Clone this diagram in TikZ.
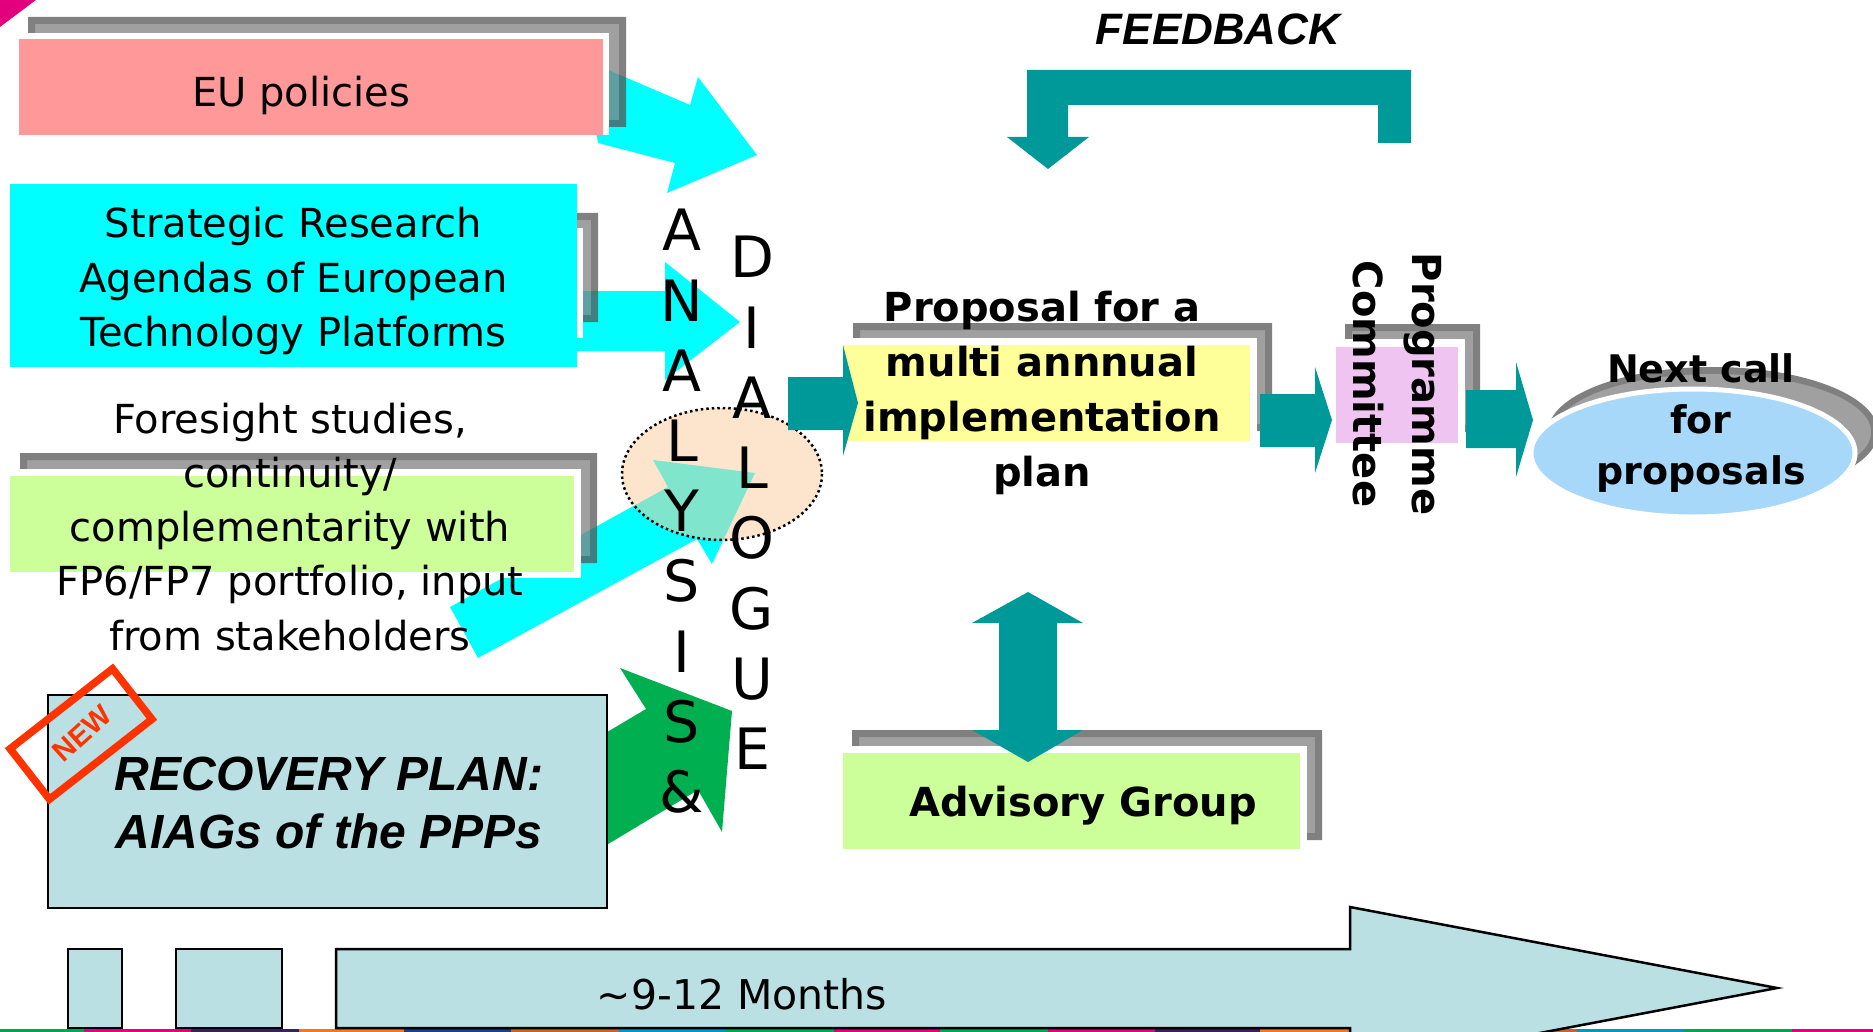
\documentclass[tikz,border=0pt]{standalone}
\usepackage{fontspec}
\setmainfont{DejaVu Sans}
\newfontfamily\arialf{Liberation Sans}
\definecolor{eupink}{HTML}{FF9999}
\definecolor{cyanc}{HTML}{00FFFF}
\definecolor{lgreen}{HTML}{CCFF99}
\definecolor{lyellow}{HTML}{FFFF99}
\definecolor{lpink}{HTML}{F0C4F0}
\definecolor{tealc}{HTML}{009999}
\definecolor{lblue}{HTML}{A7D8FA}
\definecolor{recov}{HTML}{BBE0E3}
\definecolor{greenarr}{HTML}{00B050}
\definecolor{newred}{HTML}{FF3300}
\definecolor{peach}{HTML}{FBCC9D}
\definecolor{shdark}{HTML}{555555}
\definecolor{shlight}{HTML}{808080}
\definecolor{eshdark}{HTML}{808080}
\definecolor{eshlight}{HTML}{A0A0A0}
\definecolor{magc}{HTML}{E4007C}
\definecolor{sgreen}{HTML}{00A650}
\definecolor{smag}{HTML}{E4007C}
\definecolor{spurp}{HTML}{3C1E5A}
\definecolor{sorange}{HTML}{F07820}
\definecolor{snavy}{HTML}{1E3C8C}
\definecolor{sbrown}{HTML}{C86428}
\definecolor{sblue}{HTML}{0096C8}
\newcommand{\mlines}[1]{\begin{tabular}[t]{@{}c@{}}#1\end{tabular}}
\newcommand{\shbox}[4]{%
  \fill[shdark,fill opacity=0.75,even odd rule] (#1,#2) rectangle (#3,#4) ({#1+7},{#2+7}) rectangle ({#3-7},{#4-7});
  \fill[shlight,fill opacity=0.75] ({#1+7},{#2+7}) rectangle ({#3-7},{#4-7});}
\tikzset{
  reg/.style={inner sep=0pt, anchor=base, font=\fontsize{40}{54.3}\selectfont},
  bld/.style={inner sep=0pt, anchor=base, font=\fontsize{40}{55}\selectfont\bfseries},
  letters/.style={inner sep=0pt, anchor=base, font=\fontsize{57}{70.2}\selectfont},
  arialbi/.style={inner sep=0pt, anchor=base, font=\arialf\bfseries\itshape\fontsize{48}{58}\selectfont},
  tealarrow/.style={fill=tealc},
  cyanarrow/.style={fill=cyanc},
  timebox/.style={fill=recov, draw=black, line width=2.5pt},
  newframe/.style={draw=newred, line width=7.5pt, minimum width=130pt, minimum height=64pt, inner sep=0pt, rotate=38},
}
\begin{document}
\begin{tikzpicture}[x=1pt,y=-1pt]
\useasboundingbox (0,0) rectangle (1873,1032);
% corner decoration
\fill[magc] (0,0) -- (36,0) -- (0,27) -- cycle;
% input arrows
\fill[cyanarrow] (585,60) -- (690,105) -- (698,77) -- (757,155) -- (667,193) -- (675,163) -- (598,143) -- cycle;
\fill[cyanarrow] (560,291) -- (665,291) -- (665,262) -- (740,322) -- (665,380) -- (665,351) -- (560,351) -- cycle;
\fill[cyanarrow] (450,607) -- (668,487) -- (653,460) -- (755,473) -- (712,564) -- (697,539) -- (478,658) -- cycle;
\fill[greenarr] (560,760) -- (646,709) -- (620,668) -- (732,711) -- (722,832) -- (698,790) -- (560,873) -- cycle;
% EU policies box
\shbox{28}{17}{626}{127}
\fill[white] (19,33) rectangle (609,135);
\fill[eupink] (19,39) rectangle (603,135);
% Strategic research box
\shbox{300}{213}{598}{322}
\fill[white] (300,228) rectangle (583,338);
\fill[cyanc] (10,184) rectangle (577,367);
% Foresight box
\shbox{20}{453}{597}{563}
\fill[white] (20,469) rectangle (581,578);
\fill[lgreen] (10,476) rectangle (574,572);
% Recovery plan box
\filldraw[fill=recov, draw=black, line width=2pt] (48,695) rectangle (607,908);
\node[newframe] (newbox) at (81,734) {};
\node[inner sep=0pt, rotate=42, text=newred, font=\arialf\bfseries\fontsize{29}{29}\selectfont] (newtext) at (82,733) {NEW};
% analysis & dialogue ellipse
\filldraw[fill=peach, fill opacity=0.51, draw=black, line width=2.5pt, dash pattern=on 2.5pt off 3pt] (722,474) ellipse [x radius=100, y radius=66];
% proposal box
\shbox{853}{323}{1272}{431}
\fill[white] (853,338) rectangle (1257,441);
\fill[lyellow] (843,345) rectangle (1250,441);
% programme committee box
\shbox{1345}{324}{1480}{432}
\fill[white] (1345,339) rectangle (1465,443);
\fill[lpink] (1336,347) rectangle (1458,443);
% advisory group box
\shbox{852}{730}{1322}{840}
\fill[white] (852,746) rectangle (1307,849);
\fill[lgreen] (843,753) rectangle (1300,849);
% teal flow arrows
\fill[tealarrow] (788,377) -- (843,377) -- (843,345) -- (858,403) -- (843,456) -- (843,430) -- (788,430) -- cycle;
\fill[tealarrow] (1260,394) -- (1315,394) -- (1315,367) -- (1332,420) -- (1315,473) -- (1315,447) -- (1260,447) -- cycle;
\fill[tealarrow] (1466,390) -- (1516,390) -- (1516,362) -- (1533,420) -- (1516,477) -- (1516,448) -- (1466,448) -- cycle;
% feedback arrow
\fill[tealarrow] (1411,143) -- (1411,70) -- (1027,70) -- (1027,137) -- (1007,137) -- (1048,169) -- (1089,137) -- (1068,137) -- (1068,105) -- (1378,105) -- (1378,143) -- cycle;
% advisory double arrow
\fill[tealarrow] (1028,592) -- (1083,623) -- (1057,623) -- (1057,730) -- (1083,730) -- (1028,762) -- (972,730) -- (999,730) -- (999,623) -- (972,623) -- cycle;
% next call ellipse
\fill[eshdark] (1713,432) ellipse [x radius=165, y radius=65];
\fill[eshlight] (1713,432) ellipse [x radius=158, y radius=58];
\filldraw[fill=lblue, draw=white, line width=5pt] (1693,453) ellipse [x radius=162, y radius=64];
% bottom stripe
\foreach \c/\a/\b in {sgreen/0/84, smag/84/191, spurp/191/299, sorange/299/404, snavy/404/511, sbrown/511/619, sblue/619/726, sgreen/726/834, smag/834/940, sgreen/940/1048, smag/1048/1155, spurp/1155/1260, sorange/1260/1368, snavy/1368/1475, sbrown/1475/1577, sblue/1577/1684, sgreen/1684/1792, smag/1792/1873}
  \fill[\c] (\a,1028.5) rectangle (\b,1032);
% time line
\filldraw[timebox] (68,949) rectangle (122,1028);
\filldraw[timebox] (176,949) rectangle (282,1028);
\filldraw[timebox] (336,949) -- (1350,949) -- (1350,907) -- (1777,988) -- (1350,1069) -- (1350,1028) -- (336,1028) -- cycle;
% texts
\node[reg] (eutext) at (301,107) {EU policies};
\node[reg, font=\fontsize{40}{54.5}\selectfont] (sratext) at (293.5,238) {\mlines{Strategic Research\\Agendas of European\\Technology Platforms}};
\node[reg] (foretext) at (290,433) {\mlines{Foresight studies,\\continuity/\\complementarity with\\FP6/FP7 portfolio, input\\from stakeholders}};
\node[arialbi] (rectext) at (329,790) {\mlines{RECOVERY PLAN:\\AIAGs of the PPPs}};
\node[letters] (analysis) at (682,251) {\mlines{A\\N\\A\\L\\Y\\S\\I\\S\\\&}};
\node[letters] (dialogue) at (752,278) {\mlines{D\\I\\A\\L\\O\\G\\U\\E}};
\node[arialbi, font=\arialf\bfseries\itshape\fontsize{44}{50}\selectfont] (feedback) at (1218,45) {FEEDBACK};
\node[bld] (proptext) at (1042,321) {\mlines{Proposal for a\\multi annnual\\implementation\\plan}};
\node[bld, rotate=-90] (prog) at (1412,384) {Programme};
\node[bld, rotate=-90] (comm) at (1353,384) {Committee};
\node[bld, font=\fontsize{38}{51}\selectfont\bfseries] (nextcall) at (1701,382) {\mlines{Next call\\for\\proposals}};
\node[bld] (advtext) at (1083,816) {Advisory Group};
\node[reg, font=\fontsize{41}{50}\selectfont] (months) at (742,1009) {\textasciitilde 9-12 Months};
\end{tikzpicture}
\end{document}
